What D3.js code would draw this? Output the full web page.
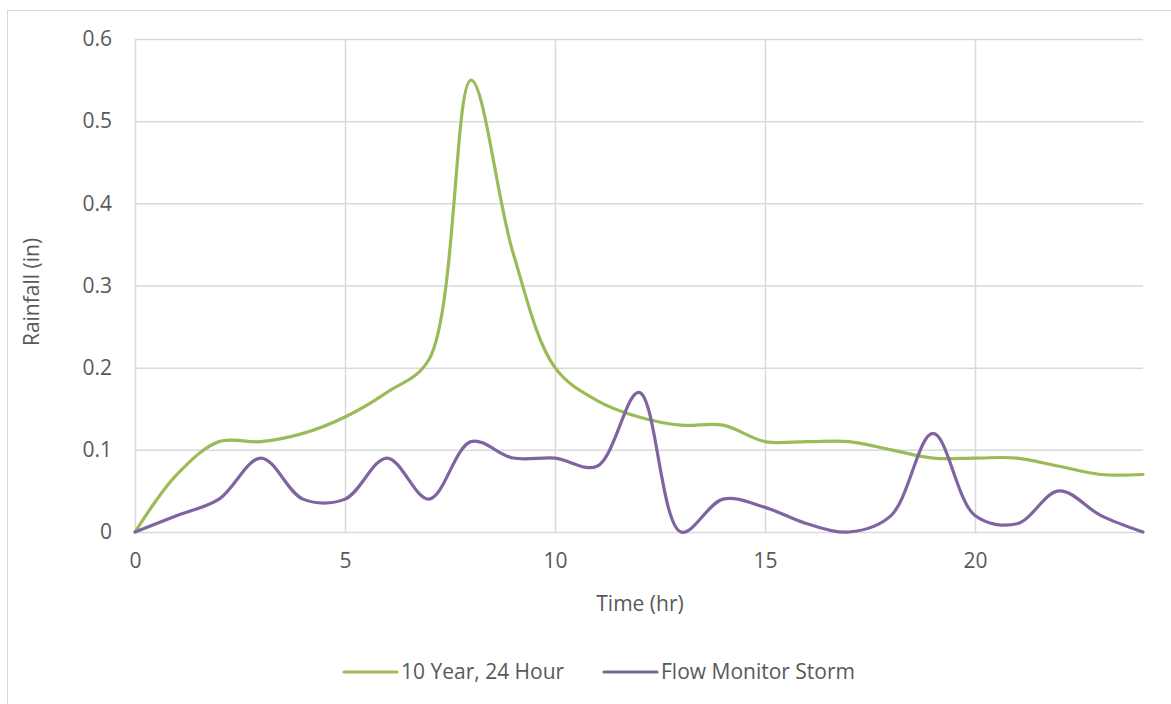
<!DOCTYPE html>
<html>
<head>
<meta charset="utf-8">
<script src="https://cdn.jsdelivr.net/npm/d3@7"></script>
<style>
  html, body { margin: 0; padding: 0; background: #fff; }
  svg { display: block; }
  text { font-family: "Open Sans", "Liberation Sans", sans-serif; fill: #595959; }
</style>
</head>
<body>
<svg id="chart" width="1171" height="704"></svg>
<script>
// Time in hours (x values)
const hours = [0,1,2,3,4,5,6,7,8,9,10,11,12,13,14,15,16,17,18,19,20,21,22,23,24];
// Rainfall (in) per hour
const tenYear24Hour = [0,0.07,0.11,0.11,0.12,0.14,0.17,0.21,0.55,0.34,0.2,0.16,0.14,0.13,0.13,0.11,0.11,0.11,0.1,0.09,0.09,0.09,0.08,0.07,0.07];
const flowMonitorStorm = [0,0.02,0.04,0.09,0.04,0.04,0.09,0.04,0.11,0.09,0.09,0.08,0.17,0,0.04,0.03,0.01,0,0.02,0.12,0.02,0.01,0.05,0.02,0];
const seriesNames = ["10 Year, 24 Hour", "Flow Monitor Storm"];
const seriesColors = ["#9BBB59", "#8064A2"];
const xTicks = [0,5,10,15,20];
const yTicks = [0,0.1,0.2,0.3,0.4,0.5,0.6];
const xTitle = "Time (hr)";
const yTitle = "Rainfall (in)";

const FS = "21px";
const svg = d3.select("#chart");
const plot = {left: 135, top: 39, right: 1143, bottom: 532};

// chart border
svg.append("rect").attr("x", 7.5).attr("y", 10.5).attr("width", 1170).attr("height", 720)
  .attr("fill", "#fff").attr("stroke", "#D9D9D9").attr("stroke-width", 1);

const x = d3.scaleLinear().domain([0, 24]).range([plot.left, plot.right]);
const y = d3.scaleLinear().domain([0, 0.6]).range([plot.bottom, plot.top]);

// horizontal gridlines
svg.append("g")
  .attr("transform", `translate(${plot.left},0)`)
  .call(d3.axisLeft(y).tickValues(yTicks).tickSize(-(plot.right - plot.left)).tickFormat(""))
  .call(g => g.select(".domain").remove())
  .call(g => g.selectAll("line").attr("stroke", "#D9D9D9").attr("stroke-width", 1.5));

// vertical gridlines
svg.append("g")
  .attr("transform", `translate(0,${plot.bottom})`)
  .call(d3.axisBottom(x).tickValues(xTicks).tickSize(-(plot.bottom - plot.top)).tickFormat(""))
  .call(g => g.select(".domain").remove())
  .call(g => g.selectAll("line").attr("stroke", "#D9D9D9").attr("stroke-width", 1.5));

// y tick labels
svg.append("g")
  .attr("transform", `translate(${plot.left},0)`)
  .call(d3.axisLeft(y).tickValues(yTicks).tickSize(0).tickPadding(23).tickFormat(d => d === 0 ? "0" : d3.format(".1f")(d)))
  .call(g => g.select(".domain").remove())
  .call(g => g.selectAll("text").style("font-size", FS).attr("fill", "#595959").style("font-family", "'Open Sans', sans-serif"));

// x tick labels
svg.append("g")
  .attr("transform", `translate(0,${plot.bottom})`)
  .call(d3.axisBottom(x).tickValues(xTicks).tickSize(0).tickPadding(21).tickFormat(d3.format("d")))
  .call(g => g.select(".domain").remove())
  .call(g => g.selectAll("text").style("font-size", FS).attr("fill", "#595959").style("font-family", "'Open Sans', sans-serif"));

// axis titles
svg.append("text").attr("x", (plot.left + plot.right) / 2 + 1).attr("y", 611)
  .attr("text-anchor", "middle").style("font-size", FS).text(xTitle);
svg.append("text").attr("transform", `translate(39,292) rotate(-90)`)
  .attr("text-anchor", "middle").style("font-size", FS).text(yTitle);

// lines
const line = d3.line().x(d => x(d[0])).y(d => y(d[1])).curve(d3.curveCatmullRom.alpha(0.5));
const allSeries = [tenYear24Hour, flowMonitorStorm];
allSeries.forEach((vals, i) => {
  svg.append("path")
    .datum(hours.map((h, j) => [h, vals[j]]))
    .attr("fill", "none")
    .attr("stroke", seriesColors[i])
    .attr("stroke-width", 3.2)
    .attr("stroke-linejoin", "round")
    .attr("stroke-linecap", "round")
    .attr("d", line);
});

// legend
const legendItems = [{x: 344, name: seriesNames[0], color: seriesColors[0]}, {x: 604, name: seriesNames[1], color: seriesColors[1]}];
legendItems.forEach(it => {
  const g = svg.append("g").attr("transform", `translate(${it.x},672)`);
  g.append("line").attr("x1", 0).attr("x2", 53).attr("y1", 0).attr("y2", 0)
    .attr("stroke", it.color).attr("stroke-width", 3.2).attr("stroke-linecap", "round");
  g.append("text").attr("x", 57).attr("y", 0).attr("dy", "0.35em").style("font-size", FS).text(it.name);
});
</script>
</body>
</html>
